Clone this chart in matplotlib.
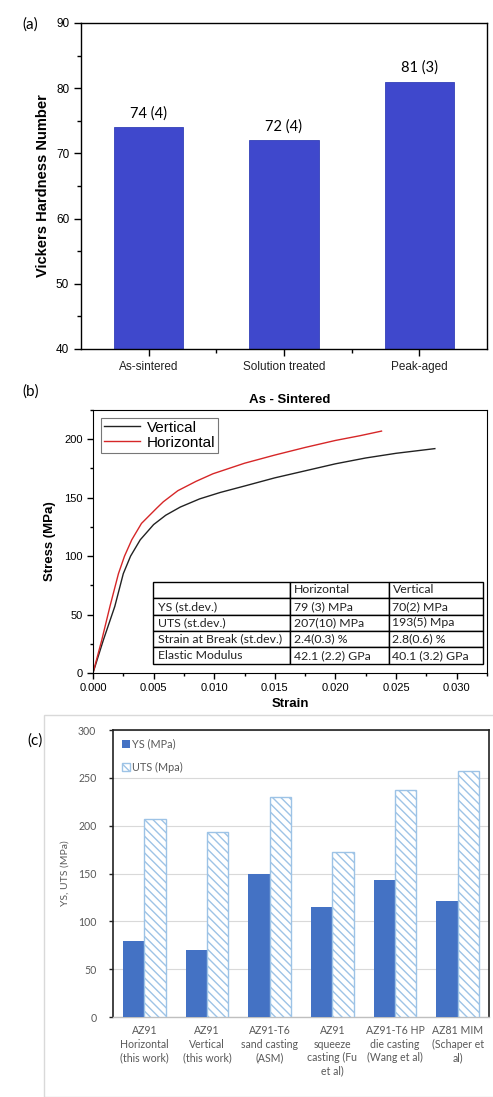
import matplotlib
matplotlib.use('Agg')
import matplotlib.pyplot as plt
import matplotlib.patches as mpatches
from matplotlib.ticker import MultipleLocator, FixedLocator
import numpy as np

# ── Data ──────────────────────────────────────────────────────
hard_labels = ['As-sintered', 'Solution treated', 'Peak-aged']
hard_values = [74, 72, 81]
hard_text = ['74 (4)', '72 (4)', '81 (3)']

strain_h = [0, 0.00072, 0.0014, 0.0021, 0.0026, 0.0032, 0.004, 0.00525, 0.0058,
            0.007, 0.0085, 0.0099, 0.0125, 0.015, 0.0175, 0.020, 0.022, 0.0238]
stress_h = [0, 28, 57, 85, 100, 114, 128, 141, 146.5,
            156, 164, 170.5, 179.5, 186.5, 193, 199, 203, 207]
strain_v = [0, 0.00085, 0.0018, 0.0025, 0.0031, 0.0039, 0.005, 0.006, 0.0072,
            0.0088, 0.0105, 0.0125, 0.015, 0.0175, 0.020, 0.0225, 0.025, 0.0282]
stress_v = [0, 28, 57, 85, 100, 114, 127, 135, 142,
            149, 154.5, 160, 167, 173, 179, 184, 188, 192]

table_rows = [['', 'Horizontal', 'Vertical'],
              ['YS (st.dev.)', '79 (3) MPa', '70(2) MPa'],
              ['UTS (st.dev.)', '207(10) MPa', '193(5) Mpa'],
              ['Strain at Break (st.dev.)', '2.4(0.3) %', '2.8(0.6) %'],
              ['Elastic Modulus', '42.1 (2.2) GPa', '40.1 (3.2) GPa']]

alloys = ['AZ91\nHorizontal\n(this work)', 'AZ91\nVertical\n(this work)',
          'AZ91-T6\nsand casting\n(ASM)', 'AZ91\nsqueeze\ncasting (Fu\net al)',
          'AZ91-T6 HP\ndie casting\n(Wang et al)', 'AZ81 MIM\n(Schaper et\nal)']
ys_vals = [79, 70, 150, 115, 143, 121]
uts_vals = [207, 193, 230, 172, 237, 257]

SANS = ['Liberation Sans', 'DejaVu Sans']
CAL = ['Lato', 'DejaVu Sans']
plt.rcParams['font.family'] = SANS
plt.rcParams['hatch.color'] = '#b4c7e7'
plt.rcParams['hatch.linewidth'] = 1.0

fig = plt.figure(figsize=(4.93, 10.97), dpi=100)

# ── (a) Vickers hardness ──────────────────────────────────────
ax = fig.add_axes([0.1643, 0.6819, 0.8235, 0.2972])
x = np.arange(len(hard_labels))
ax.bar(x, hard_values, width=0.51, color='#3F48CC', edgecolor='#3340b8', linewidth=0.6)
for xi, v, t in zip(x, hard_values, hard_text):
    ax.text(xi, v + 1.0, t, ha='center', va='bottom', fontsize=10.5, family=CAL)
ax.set_xlim(-0.5, 2.5)
ax.set_ylim(40, 90)
ax.set_xticks(x)
ax.set_xticklabels(hard_labels, fontsize=8.5, color='#222222')
ax.xaxis.set_minor_locator(FixedLocator([0.5, 1.5]))
ax.yaxis.set_major_locator(MultipleLocator(10))
ax.yaxis.set_minor_locator(MultipleLocator(5))
ax.tick_params(which='both', direction='out', labelsize=8.5, width=1)
ax.tick_params(which='major', length=5)
ax.tick_params(which='minor', length=3)
ax.set_ylabel('Vickers Hardness Number', fontsize=10.5, fontweight='bold', labelpad=4)
for s in ax.spines.values():
    s.set_linewidth(1.0)
fig.text(0.045, 0.978, '(a)', fontsize=11, family=CAL, va='center')

# ── (b) Stress-strain ─────────────────────────────────────────
ax = fig.add_axes([0.1886, 0.3865, 0.7992, 0.2397])
ax.plot(strain_v, stress_v, color='#222222', lw=1.0, label='Vertical')
ax.plot(strain_h, stress_h, color='#d62728', lw=1.0, label='Horizontal')
ax.set_xlim(0, 0.0325)
ax.set_ylim(0, 225)
ax.xaxis.set_major_locator(MultipleLocator(0.005))
ax.xaxis.set_minor_locator(MultipleLocator(0.0025))
ax.yaxis.set_major_locator(MultipleLocator(50))
ax.yaxis.set_minor_locator(MultipleLocator(25))
ax.xaxis.set_major_formatter(plt.FuncFormatter(lambda v, p: f'{v:.3f}'))
ax.tick_params(which='both', direction='out', labelsize=8, width=1)
ax.tick_params(which='major', length=4)
ax.tick_params(which='minor', length=2.5)
ax.set_xlabel('Strain', fontsize=9.5, fontweight='bold', labelpad=3)
ax.set_ylabel('Stress (MPa)', fontsize=9.5, fontweight='bold', labelpad=6)
ax.set_title('As - Sintered', fontsize=9.5, fontweight='bold', pad=5)
leg = ax.legend(loc='upper left', fontsize=11, frameon=True, fancybox=False,
                edgecolor='#555555', borderpad=0.2, handlelength=2.4,
                handletextpad=0.4, labelspacing=0.05, borderaxespad=0.5)
leg.get_frame().set_linewidth(0.8)
tab = ax.table(cellText=table_rows, cellLoc='left', colLoc='left',
               colWidths=[0.35, 0.25, 0.24],
               bbox=[0.152, 0.035, 0.838, 0.312])
tab.auto_set_font_size(False)
for (r, c), cell in tab.get_celld().items():
    cell.set_linewidth(1.0)
    cell.get_text().set_fontsize(8.8)
    cell.get_text().set_family(CAL)
    cell.get_text().set_color('#222222')
    cell.PAD = 0.04
fig.text(0.045, 0.643, '(b)', fontsize=11, family=CAL, va='center')

# ── (c) YS / UTS comparison ───────────────────────────────────
fig.patches.append(mpatches.Rectangle((44 / 493, 0), 1, 1 - 715 / 1097,
                                      transform=fig.transFigure, fill=False,
                                      edgecolor='#d9d9d9', linewidth=1.0))
ax = fig.add_axes([0.2292, 0.0729, 0.7627, 0.2616])
xc = np.arange(len(alloys))
bw = 0.34
ax.bar(xc - bw / 2, ys_vals, width=bw, color='#4472C4', label='YS (MPa)', zorder=3)
ax.bar(xc + bw / 2, uts_vals, width=bw, color='white', edgecolor='#9dc3e6',
       hatch='\\\\\\\\', linewidth=1.0, label='UTS (Mpa)', zorder=3)
ax.set_xlim(-0.5, 5.5)
ax.set_ylim(0, 300)
ax.yaxis.set_major_locator(MultipleLocator(50))
ax.grid(axis='y', color='#d9d9d9', lw=0.8, zorder=0)
ax.set_xticks(xc)
ax.set_xticklabels(alloys, fontsize=7.6, color='#595959', family=CAL, linespacing=1.25)
ax.tick_params(axis='x', length=0, pad=6)
ax.tick_params(axis='y', labelsize=7.6, labelcolor='#595959', length=3, width=1.0,
               color='#222222', pad=9)
for lab in ax.get_yticklabels():
    lab.set_family(CAL)
ax.set_ylabel('YS, UTS (MPa)', fontsize=7.5, color='#595959', family=CAL, labelpad=6)
for k in ['left', 'top', 'right']:
    ax.spines[k].set_color('#222222')
    ax.spines[k].set_linewidth(1.2)
ax.spines['bottom'].set_color('#bfbfbf')
ax.spines['bottom'].set_linewidth(1.0)
leg = ax.legend(loc='upper left', fontsize=7.8, frameon=False, handlelength=0.8,
                handleheight=0.8, handletextpad=0.2, labelspacing=1.1,
                borderaxespad=0.4, prop={'family': CAL, 'size': 7.8})
for t in leg.get_texts():
    t.set_color('#595959')
fig.text(0.055, 0.325, '(c)', fontsize=11, family=CAL, va='center')

fig.savefig('out.png', dpi=100)
